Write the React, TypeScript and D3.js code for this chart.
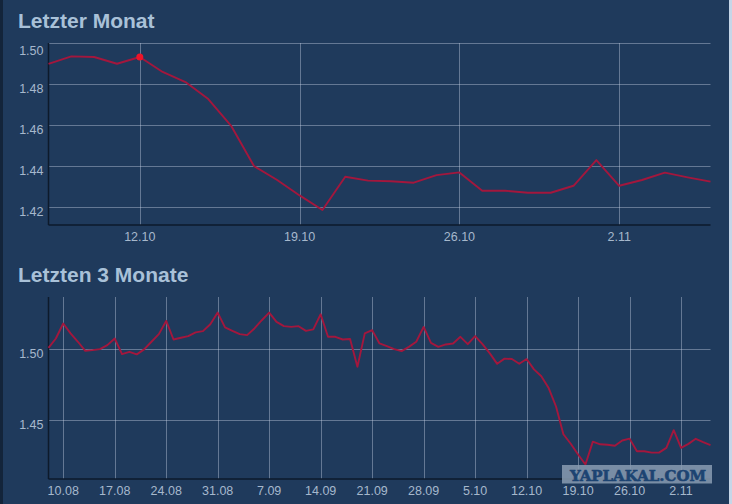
import React from "react";
import * as d3 from "d3";

// ---- data ----
const lastMonthStart = new Date(2014, 9, 8);
const lastMonthValues = [
  1.4898, 1.4935, 1.4932, 1.4899, 1.4932, 1.4859, 1.481, 1.4727, 1.4597, 1.4401,
  1.4334, 1.4258, 1.4187, 1.4349, 1.433, 1.4327, 1.432, 1.4357, 1.437, 1.4281,
  1.4281, 1.4271, 1.4271, 1.4305, 1.443, 1.4305, 1.4333, 1.4369, 1.4346, 1.4325,
];
const earlierStart = new Date(2014, 7, 8);
const earlierValues = [
  1.5011, 1.5077, 1.5183, 1.5113, 1.5054, 1.499, 1.4995, 1.5002, 1.503, 1.5077,
  1.4967, 1.4983, 1.4965, 1.5, 1.5054, 1.5108, 1.5201, 1.507, 1.5082, 1.5094,
  1.512, 1.5129, 1.5178, 1.526, 1.5155, 1.5131, 1.5108, 1.5101, 1.5148, 1.5206,
  1.526, 1.5194, 1.5164, 1.5159, 1.5164, 1.5131, 1.5141, 1.5248, 1.5089, 1.5089,
  1.507, 1.5073, 1.4878, 1.5113, 1.5136, 1.5042, 1.5023, 1.5002, 1.4988, 1.5018,
  1.5054, 1.5159, 1.5046, 1.5018, 1.5035, 1.5042, 1.5089, 1.5037, 1.5094, 1.5037,
  1.4972,
];
const topXTicks = ["12.10", "19.10", "26.10", "2.11"];
const bottomXTicks = ["10.08", "17.08", "24.08", "31.08", "7.09", "14.09", "21.09", "28.09", "5.10", "12.10", "19.10", "26.10", "2.11"];
const topYTicks = [1.42, 1.44, 1.46, 1.48, 1.5];
const bottomYTicks = [1.45, 1.5];
const topYDomain = [1.4114, 1.5];
const bottomYDomain = [1.4085, 1.537];
const markerDate = "12.10";

// ---- helpers ----
const parseTick = (s: string) => {
  const [d, m] = s.split(".").map(Number);
  return new Date(2014, m - 1, d);
};
const series = (start: Date, vals: number[]) =>
  vals.map((v, i) => ({ date: d3.timeDay.offset(start, i), value: v }));

const lastMonth = series(lastMonthStart, lastMonthValues);
const threeMonths = [...series(earlierStart, earlierValues), ...lastMonth];

const BG = "#1f3a5c";
const GRID = "rgba(195,208,226,0.42)";
const AXIS = "#0d1a2b";
const LABEL = "#a6b8cc";
const TITLE = "#a9c1d8";
const LINE = "#a3173d";
const FONT = "'Liberation Sans', Arial, sans-serif";

type Pt = { date: Date; value: number };

function Chart(props: {
  title: string;
  titleY: number;
  data: Pt[];
  top: number;
  bottom: number;
  yDomain: number[];
  yTicks: number[];
  xTicks: string[];
  marker?: string;
  xLabelY: number;
}) {
  const { data, top, bottom } = props;
  const left = 48.5;
  const right = 710.5;
  const x = d3
    .scaleTime()
    .domain([data[0].date, data[data.length - 1].date])
    .range([left, right]);
  const y = d3.scaleLinear().domain(props.yDomain).range([bottom, top]);
  const line = d3
    .line<Pt>()
    .x((d) => x(d.date))
    .y((d) => y(d.value));
  const mk = props.marker ? data.find((d) => +d.date === +parseTick(props.marker!)) : undefined;
  return (
    <g>
      <text x={18} y={props.titleY} fill={TITLE} fontFamily={FONT} fontWeight="bold" fontSize={21}>
        {props.title}
      </text>
      {props.yTicks.map((t) => (
        <line key={"h" + t} x1={left} x2={right} y1={Math.round(y(t)) + 0.5} y2={Math.round(y(t)) + 0.5} stroke={GRID} />
      ))}
      {props.xTicks.map((t) => {
        const xx = Math.round(x(parseTick(t))) + 0.5;
        return <line key={"v" + t} x1={xx} x2={xx} y1={top} y2={bottom} stroke={GRID} />;
      })}
      <line x1={left} x2={left} y1={top} y2={bottom} stroke={AXIS} strokeWidth={1.5} />
      <line x1={left} x2={right} y1={bottom} y2={bottom} stroke={AXIS} strokeWidth={1.5} />
      {props.yTicks.map((t) => (
        <text
          key={"yl" + t}
          x={43.5}
          y={Math.max(y(t) + 8.5, top + 12)}
          textAnchor="end"
          fill={LABEL}
          fontFamily={FONT}
          fontSize={12.5}
        >
          {t.toFixed(2)}
        </text>
      ))}
      {props.xTicks.map((t) => (
        <text
          key={"xl" + t}
          x={x(parseTick(t))}
          y={props.xLabelY}
          textAnchor="middle"
          fill={LABEL}
          fontFamily={FONT}
          fontSize={12.5}
        >
          {t}
        </text>
      ))}
      <path d={line(data) || ""} fill="none" stroke={LINE} strokeWidth={1.9} strokeLinejoin="round" />
      {mk && <circle cx={x(mk.date)} cy={y(mk.value)} r={3.5} fill="#ee1428" />}
    </g>
  );
}

export default function App() {
  return (
    <svg
      width={732}
      height={504}
      style={{ position: "absolute", left: 0, top: 0, display: "block" }}
    >
      <rect x={0} y={0} width={732} height={504} fill={BG} />
      <rect x={0} y={0} width={3} height={504} fill="#13243a" />
      <rect x={729} y={0} width={3} height={504} fill="#c6d6e8" />
      <Chart
        title="Letzter Monat"
        titleY={28}
        data={lastMonth}
        top={43}
        bottom={225}
        yDomain={topYDomain}
        yTicks={topYTicks}
        xTicks={topXTicks}
        marker={markerDate}
        xLabelY={241}
      />
      <Chart
        title="Letzten 3 Monate"
        titleY={281.5}
        data={threeMonths}
        top={297}
        bottom={479}
        yDomain={bottomYDomain}
        yTicks={bottomYTicks}
        xTicks={bottomXTicks}
        xLabelY={495}
      />
      <rect x={562} y={465} width={150} height={18.5} fill="#8a9cb2" opacity={0.85} />
      <text
        x={570}
        y={480.5}
        fill="#1d4472"
        fontFamily="'DejaVu Serif', serif"
        fontWeight="bold"
        fontSize={15}
        textLength={136}
        lengthAdjust="spacingAndGlyphs"
        stroke="#1d4472"
        strokeWidth={0.6}
      >
        YAPLAKAL.COM
      </text>
    </svg>
  );
}
